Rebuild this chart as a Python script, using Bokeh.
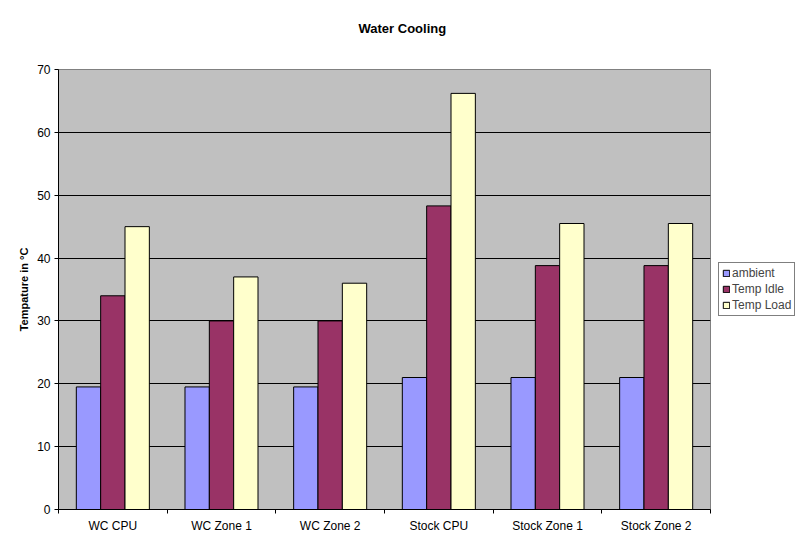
from bokeh.plotting import figure
from bokeh.models import ColumnDataSource, FixedTicker, Legend, LegendItem, Range1d, Title
from bokeh.transform import dodge
from bokeh.embed import file_html
from bokeh.resources import INLINE

categories = ["WC CPU", "WC Zone 1", "WC Zone 2", "Stock CPU", "Stock Zone 1", "Stock Zone 2"]
ambient = [19.5, 19.5, 19.5, 21.0, 21.0, 21.0]
temp_idle = [34.0, 30.0, 30.0, 48.3, 38.8, 38.8]
temp_load = [45.0, 37.0, 36.0, 66.2, 45.5, 45.5]
series_names = ["ambient", "Temp Idle", "Temp Load"]
series_colors = ["#9999FF", "#993366", "#FFFFCC"]
y_ticks = [0, 10, 20, 30, 40, 50, 60, 70]
chart_title = "Water Cooling"

n = len(categories)
xc = [i + 0.5 for i in range(n)]
src = ColumnDataSource(dict(x=xc, ambient=ambient, idle=temp_idle, load=temp_load))

FONT = "Liberation Sans"

p = figure(frame_width=652, frame_height=440, output_backend="svg", toolbar_location=None,
           x_range=Range1d(0, n), y_range=Range1d(0, 70), title=None,
           min_border_left=58, min_border_right=95, min_border_top=69, min_border_bottom=40)

p.background_fill_color = "#C0C0C0"
p.border_fill_color = "white"
p.outline_line_color = "#808080"

bw = 0.224
cols = ["ambient", "idle", "load"]
offsets = [-bw, 0.0, bw]
renderers = []
for c, off, col in zip(cols, offsets, series_colors):
    r = p.vbar(x=dodge("x", off), top=c, width=bw, bottom=0, source=src,
               fill_color=col, line_color="black", line_width=1)
    renderers.append(r)

# x axis: labels at centers, ticks at boundaries
p.xaxis.ticker = FixedTicker(ticks=xc, minor_ticks=list(range(n + 1)))
p.xaxis.major_label_overrides = {x: c for x, c in zip(xc, categories)}
p.xaxis.major_tick_out = 0
p.xaxis.major_tick_in = 0
p.xaxis.minor_tick_out = 4
p.xaxis.minor_tick_in = 0
p.xaxis.minor_tick_line_color = "black"
p.xaxis.axis_line_color = "black"
p.xaxis.major_label_standoff = 5
p.xaxis.major_label_text_font = FONT
p.xaxis.major_label_text_font_size = "12px"
p.xaxis.major_label_text_color = "black"

p.yaxis.ticker = FixedTicker(ticks=y_ticks)
p.yaxis.minor_tick_line_color = None
p.yaxis.major_tick_out = 4
p.yaxis.major_tick_in = 0
p.yaxis.axis_line_color = "black"
p.yaxis.major_label_standoff = 4
p.yaxis.major_label_text_font = FONT
p.yaxis.major_label_text_font_size = "12px"
p.yaxis.major_label_text_color = "black"
p.yaxis.axis_label = "Tempature in °C"
p.yaxis.axis_label_text_font = FONT
p.yaxis.axis_label_text_font_size = "11px"
p.yaxis.axis_label_text_font_style = "bold"
p.yaxis.axis_label_text_color = "black"
p.yaxis.axis_label_standoff = 4

p.xgrid.grid_line_color = None
p.ygrid.ticker = FixedTicker(ticks=y_ticks[1:-1])
p.ygrid.grid_line_color = "black"
p.ygrid.grid_line_alpha = 1.0
p.ygrid.grid_line_width = 1

# spacer (nearest the frame), then the real title above it
spacer = Title(text=" ", text_font_size="1px", standoff=12)
p.add_layout(spacer, "above")
title = Title(text=chart_title, text_font=FONT, text_font_size="13px", text_font_style="bold",
              align="left", offset=300, standoff=37, text_color="black")
p.add_layout(title, "above")

legend = Legend(items=[LegendItem(label=nm, renderers=[r]) for nm, r in zip(series_names, renderers)],
                location=(8, 193), orientation="vertical")
legend.border_line_color = "black"
legend.border_line_width = 1
legend.background_fill_color = "white"
legend.label_text_font = FONT
legend.label_text_font_size = "12px"
legend.glyph_width = 8
legend.glyph_height = 8
legend.label_standoff = 2
legend.padding = 3
legend.spacing = 2
legend.margin = 0
legend.label_height = 12
p.add_layout(legend, "right")

open("out.html", "w").write(file_html(p, INLINE))
